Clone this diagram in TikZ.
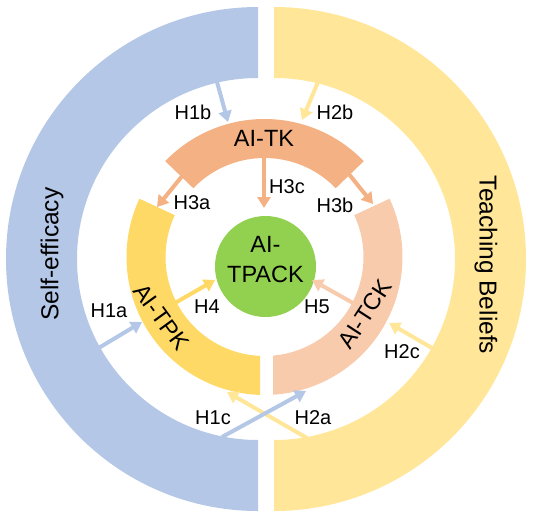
\documentclass[tikz,border=0pt]{standalone}
\usepackage{fontspec}
\setmainfont{Liberation Sans}
\usepackage{tikz}
\usetikzlibrary{arrows.meta}

\definecolor{effblue}{HTML}{B4C7E7}
\definecolor{beliefyel}{HTML}{FFE699}
\definecolor{tpkyel}{HTML}{FFD966}
\definecolor{tckpeach}{HTML}{F8CBAD}
\definecolor{tkorange}{HTML}{F4B183}
\definecolor{tpackgreen}{HTML}{92D050}

\begin{document}
\begin{tikzpicture}[x=1pt,y=1pt,
  hyp/.style={line width=4pt,-{Triangle[length=11pt,width=13pt]}},
  hlab/.style={font=\fontsize{20}{22}\selectfont},
  big/.style={font=\fontsize{23.5}{25}\selectfont},
  ringlab/.style={font=\fontsize{24.5}{26}\selectfont}]
\useasboundingbox (0,0) rectangle (535,-519);
\fill[effblue] (258,-7) arc[start angle=90,end angle=270,radius=252] -- (258,-440) arc[start angle=270,end angle=90,radius=181] -- cycle;
\fill[beliefyel] (274,-7) arc[start angle=90,end angle=-90,radius=252] -- (274,-440) arc[start angle=-90,end angle=90,radius=181] -- cycle;
\begin{scope}[shift={(264.5,-257)}]
\fill[tkorange] (44:138) arc[start angle=44,end angle=136,radius=138] -- (136:99) arc[start angle=136,end angle=44,radius=99] -- cycle;
\fill[tpkyel] (155:138) arc[start angle=155,end angle=268.13,radius=138] -- (-4.5,-98.9) arc[start angle=267.39,end angle=155,radius=99] -- cycle;
\fill[tckpeach] (-86.47:138) arc[start angle=-86.47,end angle=25,radius=138] -- (25:99) arc[start angle=25,end angle=-85.07,radius=99] -- cycle;
\end{scope}
\node[circle,fill=tpackgreen,minimum size=101pt,inner sep=0pt] (tpack) at (265.5,-266.5) {};
\node[align=center,font=\fontsize{23.5}{29.5}\selectfont] (tpacktxt) at (265.5,-259.5) {AI-\\TPACK};
\node[ringlab,rotate=90] (selfeff) at (52,-254) {Self-efficacy};
\node[ringlab,rotate=-90] (beliefs) at (486,-265) {Teaching Beliefs};
\node[big] (tk) at (264,-138) {AI-TK};
\node[big,rotate=-54] (tpk) at (161.5,-317) {AI-TPK};
\node[big,rotate=57] (tck) at (365,-314) {AI-TCK};

\coordinate (h1a-s) at (97,-349);
\coordinate (h1a-e) at (142,-322);
\coordinate (h1b-s) at (217,-82);
\coordinate (h1b-e) at (228,-122);
\coordinate (h1c-s) at (222,-437);
\coordinate (h1c-e) at (306,-391);
\coordinate (h2a-s) at (307,-438);
\coordinate (h2a-e) at (227,-392);
\coordinate (h2b-s) at (318,-82);
\coordinate (h2b-e) at (302,-120);
\coordinate (h2c-s) at (432,-348);
\coordinate (h2c-e) at (389,-323);
\coordinate (h3a-s) at (183,-175);
\coordinate (h3a-e) at (157,-207);
\coordinate (h3b-s) at (348,-173);
\coordinate (h3b-e) at (373,-204);
\coordinate (h3c-s) at (264,-158);
\coordinate (h3c-e) at (264,-208);
\coordinate (h4-s) at (175,-303);
\coordinate (h4-e) at (215,-280);
\coordinate (h5-s) at (353,-303);
\coordinate (h5-e) at (312,-280);

\draw[hyp,effblue] (h1a-s) -- (h1a-e);
\draw[hyp,effblue] (h1b-s) -- (h1b-e);
\draw[hyp,beliefyel] (h2a-s) -- (h2a-e);
\draw[hyp,effblue] (h1c-s) -- (h1c-e);
\draw[hyp,beliefyel] (h2b-s) -- (h2b-e);
\draw[hyp,beliefyel] (h2c-s) -- (h2c-e);
\draw[hyp,tkorange] (h3a-s) -- (h3a-e);
\draw[hyp,tkorange] (h3b-s) -- (h3b-e);
\draw[hyp,tkorange] (h3c-s) -- (h3c-e);
\draw[hyp,tpkyel] (h4-s) -- (h4-e);
\draw[hyp,tckpeach] (h5-s) -- (h5-e);

\node[hlab] (l1a) at (109,-311) {H1a};
\node[hlab] (l1b) at (193,-112) {H1b};
\node[hlab] (l1c) at (213,-418) {H1c};
\node[hlab] (l2a) at (313,-418) {H2a};
\node[hlab] (l2b) at (335,-112) {H2b};
\node[hlab] (l2c) at (402,-352) {H2c};
\node[hlab] (l3a) at (192,-203) {H3a};
\node[hlab] (l3b) at (335,-205) {H3b};
\node[hlab] (l3c) at (287,-187) {H3c};
\node[hlab] (l4) at (207,-307) {H4};
\node[hlab] (l5) at (317,-307) {H5};
\end{tikzpicture}
\end{document}
